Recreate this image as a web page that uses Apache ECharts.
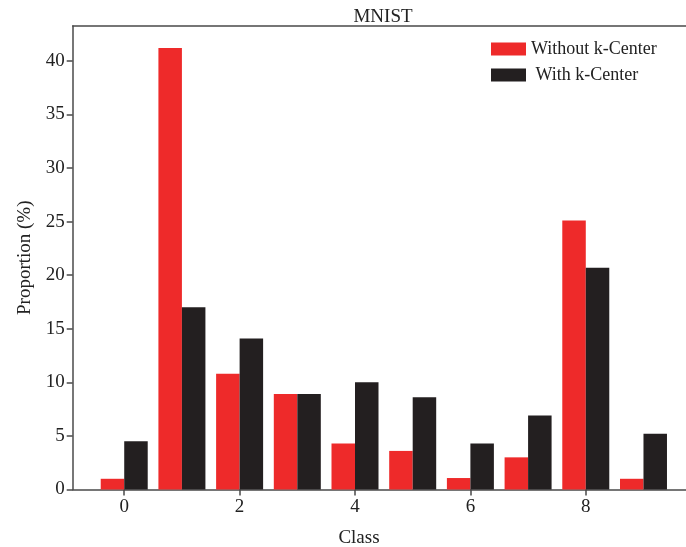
<!DOCTYPE html>
<html>
<head>
<meta charset="utf-8">
<script src="https://cdn.jsdelivr.net/npm/echarts@6/dist/echarts.min.js"></script>
<style>html,body{margin:0;padding:0;background:#fff}#c{width:686px;height:547px}</style>
</head>
<body>
<div id="c"></div>
<script>
const classes = [0, 1, 2, 3, 4, 5, 6, 7, 8, 9];
const withoutKCenter = [1.0, 41.2, 10.8, 8.9, 4.3, 3.6, 1.07, 3.0, 25.1, 1.0];
const withKCenter = [4.5, 17.0, 14.1, 8.9, 10.0, 8.6, 4.3, 6.9, 20.7, 5.2];
const xTickLabels = [0, 2, 4, 6, 8];
const yTickLabels = [0, 5, 10, 15, 20, 25, 30, 35, 40];

const font = 'Liberation Serif';
const axisCol = '#4a4a4a';
const chart = echarts.init(document.getElementById('c'));
chart.setOption({
  animation: false,
  title: [
    { text: 'MNIST', left: 378, top: 3, textAlign: 'center',
      textStyle: { fontFamily: font, fontSize: 19, fontWeight: 'normal', color: '#222' } },
    { text: 'Class', left: 354, top: 524, textAlign: 'center',
      textStyle: { fontFamily: font, fontSize: 19, fontWeight: 'normal', color: '#222' } }
  ],
  legend: {
    orient: 'vertical', left: 486, top: 35, itemWidth: 35, itemHeight: 13, itemGap: 8,
    icon: 'rect',
    textStyle: { fontFamily: font, fontSize: 18, color: '#222' },
    formatter: n => n === 'With k-Center' ? ' ' + n : n
  },
  grid: { left: 72.7, top: 26, right: 0, bottom: 57.5 },
  xAxis: [{
    type: 'value', min: -0.893, max: 9.737,
    splitLine: { show: false },
    axisLine: { show: true, onZero: false, lineStyle: { color: axisCol, width: 1.5 } },
    axisTick: { show: true, customValues: xTickLabels, length: 6, lineStyle: { color: axisCol, width: 1.5 } },
    axisLabel: { customValues: xTickLabels, fontFamily: font, fontSize: 19, color: '#222', margin: 8 }
  }, {
    type: 'value', position: 'top', min: -0.893, max: 9.737,
    splitLine: { show: false },
    axisLine: { show: true, onZero: false, lineStyle: { color: axisCol, width: 1.5 } },
    axisTick: { show: false }, axisLabel: { show: false }
  }],
  yAxis: {
    type: 'value', min: 0, max: 43.25,
    name: 'Proportion (%)', nameLocation: 'middle', nameGap: 38,
    nameTextStyle: { fontFamily: font, fontSize: 19, color: '#222' },
    splitLine: { show: false },
    axisLine: { show: true, onZero: false, lineStyle: { color: axisCol, width: 1.5 } },
    axisTick: { show: true, customValues: yTickLabels, length: 6, lineStyle: { color: axisCol, width: 1.5 } },
    axisLabel: { customValues: yTickLabels, fontFamily: font, fontSize: 19, color: '#222', margin: 8 }
  },
  series: [
    { name: 'Without k-Center', type: 'bar', barWidth: 23.5, barGap: '0%',
      itemStyle: { color: '#EE2A2A' }, data: classes.map((c, i) => [c, withoutKCenter[i]]) },
    { name: 'With k-Center', type: 'bar', barWidth: 23.5, barGap: '0%',
      itemStyle: { color: '#231F20' }, data: classes.map((c, i) => [c, withKCenter[i]]) }
  ]
});
</script>
</body>
</html>
